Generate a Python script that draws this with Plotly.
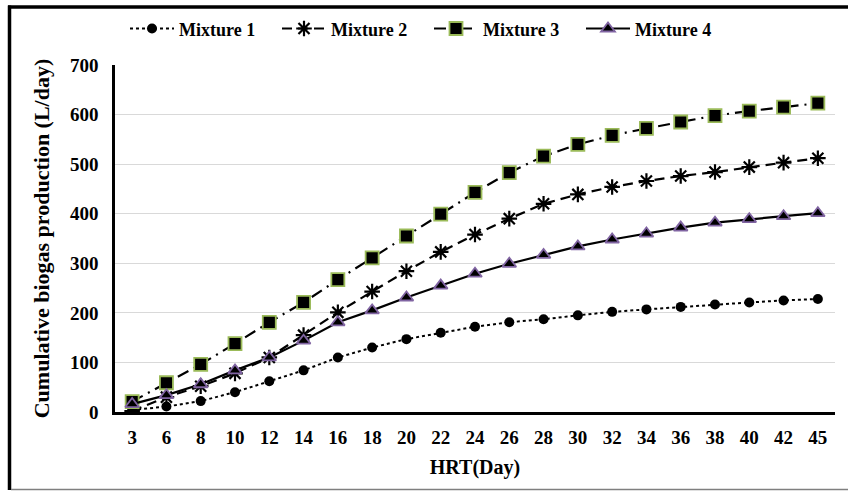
import plotly.graph_objects as go

hrt = ["3", "6", "8", "10", "12", "14", "16", "18", "20", "22", "24",
       "26", "28", "30", "32", "34", "36", "38", "40", "42", "45"]

mixture1 = [4, 11, 22, 40, 62, 84, 110, 130, 147, 160, 172,
            181, 187, 195, 202, 207, 212, 217, 221, 225, 228]
mixture2 = [2, 30, 52, 78, 110, 155, 201, 243, 284, 323, 358,
            390, 420, 439, 454, 466, 476, 484, 494, 503, 512]
mixture3 = [21, 59, 96, 138, 181, 221, 267, 311, 355, 399, 443,
            483, 516, 540, 558, 572, 585, 598, 607, 615, 623]
mixture4 = [16, 34, 56, 84, 110, 144, 181, 205, 231, 255, 279,
            299, 317, 334, 348, 360, 372, 382, 389, 395, 401]

series_names = ["Mixture 1", "Mixture 2", "Mixture 3", "Mixture 4"]
FONT = "Liberation Serif"

fig = go.Figure()
fig.add_trace(go.Scatter(
    x=hrt, y=mixture1, name=series_names[0], mode="lines+markers",
    line=dict(color="black", width=2, dash="dot"),
    marker=dict(symbol="circle", size=10, color="black")))
fig.add_trace(go.Scatter(
    x=hrt, y=mixture2, name=series_names[1], mode="lines+markers",
    line=dict(color="black", width=2.2, dash="10px,6px"),
    marker=dict(symbol="asterisk-open", size=13, color="black",
                line=dict(color="black", width=2.2))))
fig.add_trace(go.Scatter(
    x=hrt, y=mixture3, name=series_names[2], mode="lines+markers",
    line=dict(color="black", width=2.2, dash="12px,6px,2px,6px"),
    marker=dict(symbol="square", size=13, color="black",
                line=dict(color="#9BBB59", width=1.8))))
fig.add_trace(go.Scatter(
    x=hrt, y=mixture4, name=series_names[3], mode="lines+markers",
    line=dict(color="black", width=2.2),
    marker=dict(symbol="triangle-up", size=12, color="black",
                line=dict(color="#8064A2", width=1.8))))

L, T, W, H = 115, 65, 720, 347
def px(x):
    return (x - L) / W
def py(y):
    return (T + H - y) / H

shapes = [
    dict(type="line", xref="paper", yref="paper", x0=px(8), x1=px(860),
         y0=py(7), y1=py(7), line=dict(color="black", width=3.5)),
    dict(type="line", xref="paper", yref="paper", x0=px(9.5), x1=px(9.5),
         y0=py(5.5), y1=py(490), line=dict(color="black", width=3.5)),
    dict(type="line", xref="paper", yref="paper", x0=px(11), x1=px(860),
         y0=py(489.5), y1=py(489.5), line=dict(color="#7f7f7f", width=1.5)),
]

fig.update_layout(
    width=848, height=491,
    margin=dict(l=L, r=848 - L - W, t=T, b=491 - T - H, autoexpand=False),
    paper_bgcolor="white", plot_bgcolor="white",
    font=dict(family=FONT, color="black", size=16),
    showlegend=True,
    legend=dict(orientation="h", xref="container", yref="container",
                x=125 / 848, y=0.979, xanchor="left", yanchor="top",
                font=dict(family=FONT, size=18, color="black", weight="bold"),
                itemwidth=44, entrywidth=93, entrywidthmode="pixels",
                tracegroupgap=0, bgcolor="rgba(0,0,0,0)"),
    shapes=shapes,
    xaxis=dict(type="category", range=[-0.5, 20.5], showgrid=False,
               automargin=False,
               showline=True, linecolor="black", linewidth=2.5,
               ticks="", ticklabelstandoff=6,
               tickfont=dict(family=FONT, size=19, weight="bold"),
               title=dict(text="<b>HRT(Day)</b>", standoff=14,
                          font=dict(family=FONT, size=20))),
    yaxis=dict(range=[0, 700], dtick=100, showgrid=True, gridcolor="#D9D9D9",
               automargin=False,
               gridwidth=1, zeroline=False, showline=True, linecolor="black",
               linewidth=2.5, ticks="", ticklabelstandoff=10,
               tickfont=dict(family=FONT, size=19, weight="bold"),
               title=dict(text="<b>Cumulative biogas production (L/day)</b>",
                          standoff=15, font=dict(family=FONT, size=22))),
)

fig.write_html("out.html", config={"displayModeBar": False},
               post_script="document.body.style.margin='0';")
